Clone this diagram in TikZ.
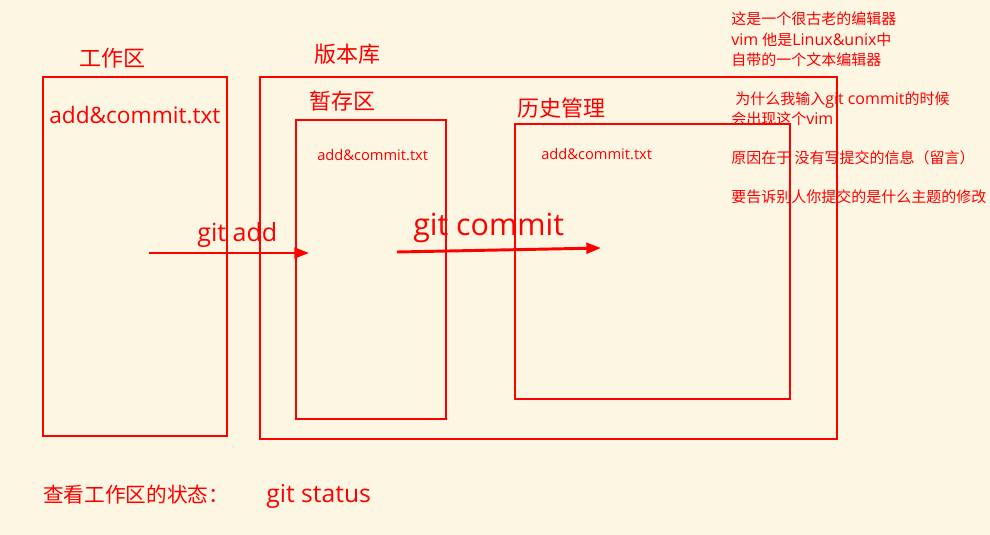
\documentclass[tikz,border=0pt]{standalone}
\usepackage{fontspec}
\setmainfont{Open Sans}
\newfontfamily\cjkfam{Noto Sans CJK SC}
\usetikzlibrary{arrows.meta}
\definecolor{bgcream}{HTML}{FDF6E3}
\definecolor{redline}{HTML}{FF0000}
\tikzset{
  boxframe/.style={draw=redline, line width=1.7pt},
  lbl/.style={text=redline, inner sep=0pt, anchor=west},
  note/.style={lbl, font=\fsz{12pt}},
  flowarrow/.style={draw=redline, line width=2.2pt, -{Triangle[length=11pt,width=8pt]}},
}
\newcommand{\fsz}[1]{\fontsize{#1}{#1}\selectfont}
\newcommand{\nc}[1]{{\cjkfam\fontsize{11.25pt}{11.25pt}\selectfont #1}}
\begin{document}
\begin{tikzpicture}[x=0.75pt,y=-0.75pt]
\fill[bgcream] (0,0) rectangle (990,535);
\useasboundingbox (0,0) rectangle (990,535);
% titles
\node[lbl, font=\cjkfam\fsz{16.5pt}] (tWork) at (79,58) {工作区};
\node[lbl, font=\cjkfam\fsz{16.5pt}] (tRepo) at (314,54) {版本库};
\node[lbl, font=\cjkfam\fsz{16.5pt}] (tStage) at (309,101) {暂存区};
\node[lbl, font=\cjkfam\fsz{16.5pt}] (tHist) at (517,108) {历史管理};
% file names
\node[lbl, font=\fsz{17pt}] (fWork) at (49,115) {add\&commit.txt};
\node[lbl, font=\fsz{11pt}] (fStage) at (317,155) {add\&commit.txt};
\node[lbl, font=\fsz{11pt}] (fHist) at (541,154) {add\&commit.txt};
% command labels
\node[lbl, font=\fsz{18.8pt}] (cAdd) at (197,235) {git add};
\node[lbl, font=\fsz{22.8pt}] (cCommit) at (413,228) {git commit};
% notes
\node[note] (n1) at (731,19) {\nc{这是一个很古老的编辑器}};
\node[note] (n2) at (731,40) {vim \nc{他是}Linux\&unix\nc{中}};
\node[note] (n3) at (731,60) {\nc{自带的一个文本编辑器}};
\node[note] (n4) at (735,100) {\nc{为什么我输入}git commit\nc{的时候}};
\node[note] (n5) at (731,119) {\nc{会出现这个}vim};
\node[note] (n6) at (731,158) {\nc{原因在于 没有写提交的信息（留言）}};
\node[note] (n7) at (731,197) {\nc{要告诉别人你提交的是什么主题的修改}};
\node[lbl, font=\fsz{18.5pt}] (status) at (43,496) {\makebox[167.25pt][l]{\cjkfam\fontsize{15.5pt}{15.5pt}\selectfont 查看工作区的状态：}git status};
% boxes
\node[boxframe, minimum width=184*0.75pt, minimum height=359*0.75pt, anchor=north west, inner sep=0pt] (work) at (42,76) {};
\node[boxframe, minimum width=577*0.75pt, minimum height=362*0.75pt, anchor=north west, inner sep=0pt] (repo) at (259,76) {};
\node[boxframe, minimum width=150*0.75pt, minimum height=299*0.75pt, anchor=north west, inner sep=0pt] (stage) at (295,119) {};
\node[boxframe, minimum width=275*0.75pt, minimum height=275*0.75pt, anchor=north west, inner sep=0pt] (hist) at (514,123) {};
% arrows
\coordinate (aS) at (149,253);
\coordinate (aE) at (309,253);
\coordinate (bS) at (397,252);
\coordinate (bE) at (601,248);
\draw[flowarrow] (aS) -- (aE);
\draw[flowarrow] (bS) -- (bE);
\end{tikzpicture}
\end{document}
